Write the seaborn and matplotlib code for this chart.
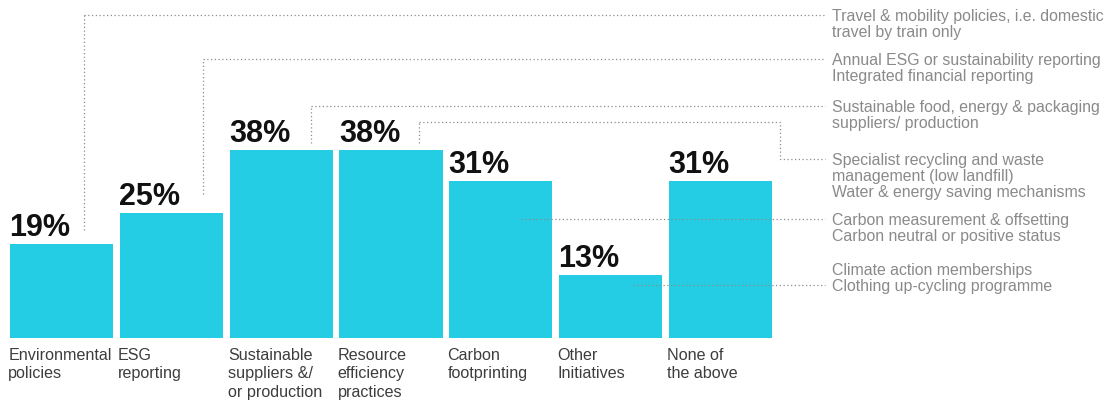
import matplotlib
matplotlib.use("Agg")
import matplotlib.pyplot as plt
import seaborn as sns
import pandas as pd

# ---------------- data ----------------
categories = ["Environmental\npolicies", "ESG\nreporting",
              "Sustainable\nsuppliers &/\nor production",
              "Resource\nefficiency\npractices", "Carbon\nfootprinting",
              "Other\nInitiatives", "None of\nthe above"]
values = [19, 25.2, 38, 38, 31.7, 12.7, 31.7]
value_labels = ["19%", "25%", "38%", "38%", "31%", "13%", "31%"]
notes = [
    ["Travel & mobility policies, i.e. domestic", "travel by train only"],
    ["Annual ESG or sustainability reporting", "Integrated financial reporting"],
    ["Sustainable food, energy & packaging", "suppliers/ production"],
    ["Specialist recycling and waste", "management (low landfill)",
     "Water & energy saving mechanisms"],
    ["Carbon measurement & offsetting", "Carbon neutral or positive status"],
    ["Climate action memberships", "Clothing up-cycling programme"],
]

# ---------------- layout (pixels of the 1118x404 image) ----------------
W, H = 1118, 404
BAR_COLOR = "#25cde4"
NOTE_COLOR = "#8a8a8a"
LINE_COLOR = "#8c8c8c"
note_level_px = [15, 59, 106, 122, 219, 285]      # horizontal connector heights
note_attach = [0.72, 0.81, 0.79, 0.77, 0.70, 0.72]  # fraction across the bar
note_gap_px = [14, 19, 7, 7, None, None]          # gap above bar top (None = starts inside bar)
note_text_line = [0, 0, 0, 0, 0, 1]               # which note line sits on the connector
elbow_px = {3: (780, 159)}                        # dog-leg for the 4th note
conn_end_px, note_x_px, note_pitch_px = 825, 832, 16

sns.set_theme(style="white")
plt.rcParams["font.family"] = ["Liberation Sans", "DejaVu Sans"]

fig = plt.figure(figsize=(W / 100, H / 100), dpi=100)
ax = fig.add_axes([0, 0, 1, 1])

df = pd.DataFrame({"category": categories, "value": values})
sns.barplot(data=df, x="category", y="value", order=categories, color=BAR_COLOR,
            saturation=1, width=0.938, linewidth=0, ax=ax)

pitch_px, center0_px = 109.83, 61.5
ax.set_xlim(-center0_px / pitch_px, (W - center0_px) / pitch_px)
base_px, px_per_unit = 337.5, 4.93
ax.set_ylim(-(H - base_px) / px_per_unit, base_px / px_per_unit)
ax.set_axis_off()

inv = ax.transData.inverted()


def dx(px):
    return inv.transform((px, 0))[0]


def dy(py):
    return inv.transform((0, H - py))[1]


bars = ax.patches
for bar, lbl, cat in zip(bars, value_labels, categories):
    ax.annotate(lbl, xy=(bar.get_x(), bar.get_height()), xytext=(-0.5, 5.8),
                textcoords="offset points", ha="left", va="baseline",
                fontsize=22, fontweight="bold", color="#111111")
    ax.annotate(cat, xy=(bar.get_x(), 0), xytext=(-1.3, -7.2),
                textcoords="offset points", ha="left", va="top",
                fontsize=11.6, color="#3d3d3d", linespacing=1.3)

ls = dict(color=LINE_COLOR, lw=0.9, linestyle=(0, (1, 2)), solid_capstyle="butt")
x_end = dx(conn_end_px)
for i, lines in enumerate(notes):
    bar = bars[i]
    xa = bar.get_x() + note_attach[i] * bar.get_width()
    yl = dy(note_level_px[i])
    if note_gap_px[i] is not None:
        top_px = H - ax.transData.transform((0, bar.get_height()))[1]
        ax.plot([xa, xa], [dy(top_px - note_gap_px[i]), yl], **ls)
    if i in elbow_px:
        ex, ey = elbow_px[i]
        ax.plot([xa, dx(ex), dx(ex), x_end], [yl, yl, dy(ey), dy(ey)], **ls)
        anchor_px = ey
    else:
        ax.plot([xa, x_end], [yl, yl], **ls)
        anchor_px = note_level_px[i]
    first_base = anchor_px + 6 - note_text_line[i] * note_pitch_px
    for k, line in enumerate(lines):
        fig.text(note_x_px / W, 1 - (first_base + k * note_pitch_px) / H, line,
                 ha="left", va="baseline", fontsize=11.4, color=NOTE_COLOR)

fig.savefig("out.png", dpi=100)
